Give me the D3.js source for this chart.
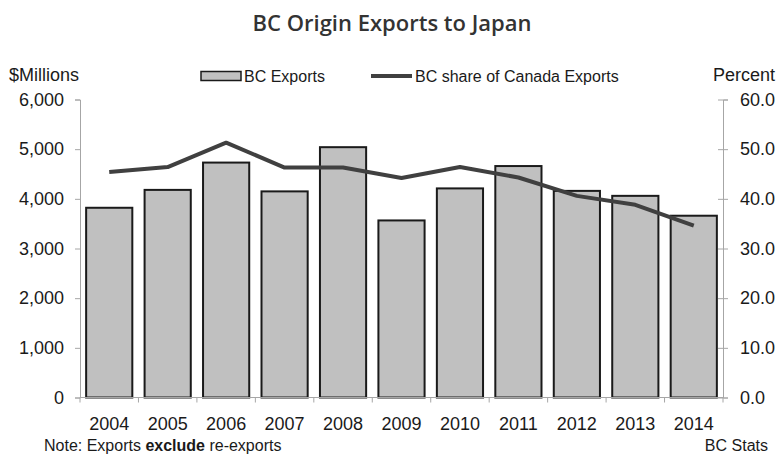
<!DOCTYPE html>
<html><head><meta charset="utf-8">
<script src="https://cdn.jsdelivr.net/npm/d3@7"></script>
<style>
body{margin:0;background:#fff;}
svg text{font-family:"Liberation Sans",Arial,sans-serif;fill:#1a1a1a;}
</style></head>
<body><svg id="c" width="778" height="456"></svg>
<script>
const years = ["2004","2005","2006","2007","2008","2009","2010","2011","2012","2013","2014"];
const exportsM = [3820,4180,4730,4150,5040,3565,4210,4660,4160,4060,3660];
const sharePct = [45.4,46.4,51.3,46.3,46.3,44.2,46.4,44.3,40.6,38.8,34.6];
const leftTicks = [0,1000,2000,3000,4000,5000,6000];
const rightTicks = [0,10,20,30,40,50,60];

const svg = d3.select("#c");
const L = 80, R = 723, T = 99.5, B = 397.5;
const x = d3.scaleBand().domain(years).range([L,R]).paddingInner(0.21).paddingOuter(0.105);
const yL = d3.scaleLinear().domain([0,6000]).range([B,T]);
const yR = d3.scaleLinear().domain([0,60]).range([B,T]);

svg.append("text").attr("x",392).attr("y",31).attr("text-anchor","middle")
  .style("font-family","'Open Sans',sans-serif").style("font-weight","600")
  .style("font-size","22px").style("fill","#333").text("BC Origin Exports to Japan");

// left axis
const gl = svg.append("g").attr("transform",`translate(${L},0)`)
  .call(d3.axisLeft(yL).tickValues(leftTicks).tickFormat(d3.format(",")).tickSize(5).tickPadding(11));
gl.selectAll("path,line").attr("stroke","#a6a6a6");
gl.selectAll("text").style("font-size","18px").attr("fill","#1a1a1a");

// right axis
const gr = svg.append("g").attr("transform",`translate(${R},0)`)
  .call(d3.axisRight(yR).tickValues(rightTicks).tickFormat(d3.format(".1f")).tickSize(5).tickPadding(12));
gr.selectAll("path,line").attr("stroke","#a6a6a6");
gr.selectAll(".tick line").attr("x1",-5);
gr.selectAll("text").style("font-size","18px").attr("fill","#1a1a1a");

// bars
svg.append("g").selectAll("rect").data(years).join("rect")
  .attr("x",d=>x(d)).attr("width",x.bandwidth())
  .attr("y",(d,i)=>yL(exportsM[i])).attr("height",(d,i)=>B-yL(exportsM[i]))
  .attr("fill","#c0c0c0").attr("stroke","#1a1a1a").attr("stroke-width",2);

// bottom axis
const step = x.step();
const gb = svg.append("g").attr("transform",`translate(0,${B})`);
gb.append("line").attr("x1",L).attr("x2",R).attr("stroke","#a6a6a6");
const bounds = d3.range(years.length+1).map(i=>L+(R-L)*i/years.length);
gb.selectAll("line.t").data(bounds).join("line").attr("class","t")
  .attr("x1",d=>d).attr("x2",d=>d).attr("y1",0).attr("y2",5).attr("stroke","#a6a6a6");
gb.selectAll("text").data(years).join("text")
  .attr("x",d=>x(d)+x.bandwidth()/2).attr("y",32).attr("text-anchor","middle")
  .style("font-size","18px").text(d=>d);

// line
const line = d3.line().x((d,i)=>x(years[i])+x.bandwidth()/2).y(d=>yR(d));
svg.append("path").datum(sharePct).attr("d",line).attr("fill","none")
  .attr("stroke","#404040").attr("stroke-width",4).attr("stroke-linejoin","round");

// axis titles
svg.append("text").attr("x",9).attr("y",81).style("font-size","18px").text("$Millions");
svg.append("text").attr("x",775).attr("y",81).attr("text-anchor","end").style("font-size","18px").text("Percent");

// legend
svg.append("rect").attr("x",201).attr("y",71.5).attr("width",40).attr("height",9)
  .attr("fill","#c0c0c0").attr("stroke","#1a1a1a").attr("stroke-width",1.5);
svg.append("text").attr("x",244).attr("y",82).style("font-size","16px").text("BC Exports");
svg.append("line").attr("x1",371).attr("x2",412).attr("y1",76).attr("y2",76)
  .attr("stroke","#404040").attr("stroke-width",4);
svg.append("text").attr("x",415).attr("y",82).style("font-size","16px").text("BC share of Canada Exports");

// footer
const note = svg.append("text").attr("x",44).attr("y",451).style("font-size","16px");
note.append("tspan").text("Note: Exports ");
note.append("tspan").style("font-weight","bold").text("exclude");
note.append("tspan").text(" re-exports");
svg.append("text").attr("x",768).attr("y",451).attr("text-anchor","end").style("font-size","16px").text("BC Stats");
</script></body></html>
